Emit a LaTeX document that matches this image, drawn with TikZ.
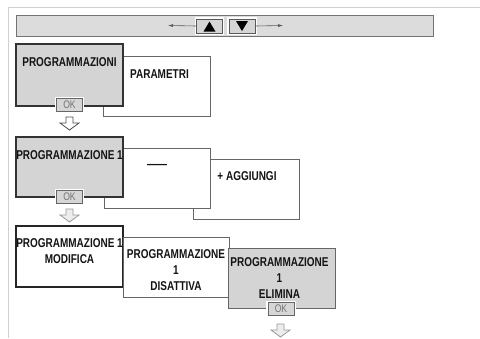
\documentclass[tikz,border=0pt]{standalone}
\usepackage{fontspec}
\setmainfont{Liberation Sans}[FakeStretch=0.78]
\usetikzlibrary{arrows.meta}
\definecolor{boxgray}{HTML}{D4D4D4}
\definecolor{bargray}{HTML}{DCDCDC}
\definecolor{btngray}{HTML}{D6D6D6}
\definecolor{framegray}{HTML}{D0D0D0}
\definecolor{txt}{HTML}{141414}
\newcommand\myblockarrow[3]{%
  \draw[#3,shift={(#1,#2)}] (-3.5,0) -- (3.5,0) -- (3.5,6) -- (9.5,6) -- (0,13) -- (-9.5,6) -- (-3.5,6) -- cycle;}
\begin{document}
\begin{tikzpicture}[x=1pt,y=-1pt,
  graybox/.style={draw=black!80, line width=1.4pt, fill=boxgray, inner sep=0pt},
  whitebox/.style={draw=black!60, line width=0.9pt, fill=white, inner sep=0pt},
  darkwhitebox/.style={draw=black!85, line width=1.4pt, fill=white, inner sep=0pt},
  lightgraybox/.style={draw=black!60, line width=0.9pt, fill=boxgray, inner sep=0pt},
  lbl/.style={font=\bfseries\fontsize{12.8}{16}\selectfont, align=center, inner sep=0pt, text=txt},
  okbtn/.style={draw=black!60, fill=btngray, line width=0.8pt, minimum width=26pt, minimum height=13pt, inner sep=0pt, font=\fontsize{11}{11}\selectfont, text=black!55, preaction={draw=white, line width=3.2pt}},
  barbtn/.style={draw=black!65, fill=btngray, line width=0.8pt, minimum width=26pt, minimum height=14pt, inner sep=0pt, preaction={draw=white, line width=3.2pt}},
  bararrow/.style={draw=black!65, line width=0.6pt, -{Latex[length=5pt,width=3pt]}},
  arrdark/.style={draw=black!70, line width=0.8pt, fill=white},
  arrlight/.style={draw=black!40, line width=0.8pt, fill=black!7}
]
\useasboundingbox (0,0) rectangle (480,338);
% outer frame
\draw[framegray, line width=1.5pt] (480,7.5) -- (8.5,7.5) -- (8.5,338);
% top bar
\node[draw=black!55, line width=1pt, fill=bargray, minimum width=417pt, minimum height=21pt, inner sep=0pt] (bar) at (224.5,25.5) {};
\node[barbtn] (upbtn) at (209.5,26) {};
\node[barbtn] (dnbtn) at (242,26) {};
\fill[black] (203.5,31.5) -- (215.5,31.5) -- (209.5,21.5) -- cycle;
\fill[black] (236,21) -- (248,21) -- (242,31) -- cycle;
\coordinate (la) at (168,25.5);
\coordinate (ra) at (283,25.5);
\draw[bararrow] (upbtn.west) -- (la);
\draw[bararrow] (dnbtn.east) -- (ra);
% row 1
\node[whitebox, minimum width=107pt, minimum height=60pt] (params) at (156.5,86) {};
\node[graybox, minimum width=107pt, minimum height=62pt] (progs) at (69.5,75) {};
\node[lbl] (tprogs) at (69.5,62) {PROGRAMMAZIONI};
\node[lbl] (tparams) at (159.5,74) {PARAMETRI};
\node[okbtn] (ok1) at (69.5,105) {OK};
\myblockarrow{69.5}{117}{arrdark}
% row 2
\node[whitebox, minimum width=106pt, minimum height=60pt] (agg) at (246,189) {};
\node[whitebox, minimum width=106pt, minimum height=60pt] (dashbox) at (157,178) {};
\node[graybox, minimum width=107pt, minimum height=60pt] (prog1) at (69.5,167) {};
\node[lbl] (tprog1) at (69.5,155) {PROGRAMMAZIONE 1};
\node[lbl, anchor=base] (tdash) at (157,168.5) {——};
\node[lbl] (tagg) at (247,176) {+ AGGIUNGI};
\node[okbtn] (ok2) at (69.5,197) {OK};
\myblockarrow{69.5}{209}{arrlight}
% row 3
\node[darkwhitebox, minimum width=107pt, minimum height=61pt] (modif) at (69.5,256.5) {};
\node[whitebox, minimum width=106pt, minimum height=60pt] (disatt) at (176,267) {};
\node[lightgraybox, minimum width=107pt, minimum height=60pt] (elim) at (281.5,278) {};
\node[lbl] (tmodif) at (69.5,251) {PROGRAMMAZIONE 1\\MODIFICA};
\node[lbl] (tdisatt) at (176,270) {PROGRAMMAZIONE\\1\\DISATTIVA};
\node[lbl] (telim) at (279.5,278.5) {PROGRAMMAZIONE\\1\\ELIMINA};
\node[okbtn] (ok3) at (281,309) {OK};
\myblockarrow{280.5}{324}{arrlight}
\end{tikzpicture}
\end{document}
